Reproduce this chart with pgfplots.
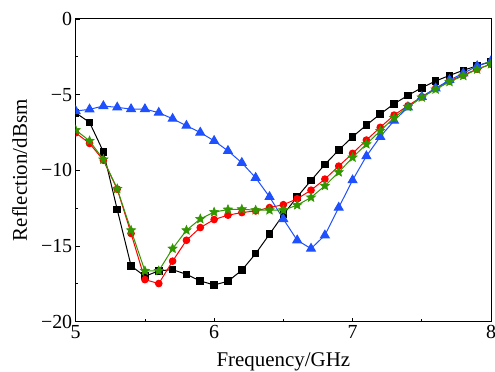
\documentclass[border=0pt]{standalone}
\usepackage{fontspec}
\setmainfont{Liberation Serif}
\usepackage{pgfplots}
\pgfplotsset{compat=1.18}
\definecolor{cblue}{RGB}{30,80,255}
\definecolor{cgreen}{RGB}{50,150,0}
\definecolor{cred}{RGB}{255,0,0}
\pgfdeclareplotmark{fstar}{%
  \pgfpathmoveto{\pgfpointpolar{90}{\pgfplotmarksize}}%
  \pgfpathlineto{\pgfpointpolar{126}{0.45\pgfplotmarksize}}%
  \pgfpathlineto{\pgfpointpolar{162}{\pgfplotmarksize}}%
  \pgfpathlineto{\pgfpointpolar{198}{0.45\pgfplotmarksize}}%
  \pgfpathlineto{\pgfpointpolar{234}{\pgfplotmarksize}}%
  \pgfpathlineto{\pgfpointpolar{270}{0.45\pgfplotmarksize}}%
  \pgfpathlineto{\pgfpointpolar{306}{\pgfplotmarksize}}%
  \pgfpathlineto{\pgfpointpolar{342}{0.45\pgfplotmarksize}}%
  \pgfpathlineto{\pgfpointpolar{18}{\pgfplotmarksize}}%
  \pgfpathlineto{\pgfpointpolar{54}{0.45\pgfplotmarksize}}%
  \pgfpathclose
  \pgfusepathqfillstroke}

\pgfplotstableread{
x y
5.0 -6.2
5.1 -6.83
5.2 -8.77
5.3 -12.59
5.4 -16.31
5.5 -17.0
5.6 -16.64
5.7 -16.56
5.8 -16.87
5.9 -17.31
6.0 -17.57
6.1 -17.33
6.2 -16.6
6.3 -15.5
6.4 -14.22
6.5 -12.92
6.6 -11.75
6.7 -10.67
6.8 -9.61
6.9 -8.66
7.0 -7.78
7.1 -7.01
7.2 -6.28
7.3 -5.6
7.4 -5.05
7.5 -4.54
7.6 -4.1
7.7 -3.73
7.8 -3.39
7.9 -3.09
8.0 -2.82
}\blackdata

\pgfplotstableread{
x y
5.0 -7.52
5.1 -8.22
5.2 -9.33
5.3 -11.24
5.4 -14.17
5.5 -17.22
5.6 -17.48
5.7 -16.0
5.8 -14.62
5.9 -13.78
6.0 -13.25
6.1 -12.96
6.2 -12.79
6.3 -12.68
6.4 -12.46
6.5 -12.27
6.6 -11.88
6.7 -11.31
6.8 -10.58
6.9 -9.72
7.0 -8.88
7.1 -8.0
7.2 -7.16
7.3 -6.35
7.4 -5.73
7.5 -5.14
7.6 -4.58
7.7 -4.1
7.8 -3.7
7.9 -3.31
8.0 -2.98
}\reddata

\pgfplotstableread{
x y
5.0 -6.08
5.1 -5.97
5.2 -5.75
5.3 -5.84
5.4 -5.95
5.5 -5.95
5.6 -6.19
5.7 -6.59
5.8 -7.05
5.9 -7.5
6.0 -8.05
6.1 -8.71
6.2 -9.5
6.3 -10.49
6.4 -11.75
6.5 -13.22
6.6 -14.62
6.7 -15.17
6.8 -14.29
6.9 -12.46
7.0 -10.65
7.1 -9.06
7.2 -7.78
7.3 -6.72
7.4 -5.84
7.5 -5.14
7.6 -4.58
7.7 -4.03
7.8 -3.59
7.9 -3.11
8.0 -2.78
}\bluedata

\pgfplotstableread{
x y
5.0 -7.34
5.1 -8.05
5.2 -9.28
5.3 -11.22
5.4 -13.96
5.5 -16.64
5.6 -16.64
5.7 -15.17
5.8 -13.96
5.9 -13.21
6.0 -12.76
6.1 -12.59
6.2 -12.57
6.3 -12.63
6.4 -12.63
6.5 -12.63
6.6 -12.3
6.7 -11.79
6.8 -11.02
6.9 -10.12
7.0 -9.15
7.1 -8.27
7.2 -7.39
7.3 -6.53
7.4 -5.8
7.5 -5.18
7.6 -4.65
7.7 -4.15
7.8 -3.75
7.9 -3.33
8.0 -2.98
}\greendata

\begin{document}
\begin{tikzpicture}
\begin{axis}[name=ax, scale only axis, width=415.3bp, height=302.7bp,
  xmin=5, xmax=8, ymin=-20, ymax=0,
  xtick={5,6,7,8}, xticklabels={5,6,7,8},
  ytick={-20,-15,-10,-5,0}, yticklabels={−20,−15,−10,−5,0},
  minor x tick num=1, minor y tick num=1,
  tick pos=left, tick align=inside,
  major tick length=4bp, minor tick length=2.5bp,
  axis line style={line width=1bp},
  every tick/.style={black, line width=0.8bp},
  ticklabel style={font=\fontsize{20}{24}\selectfont},
  label style={font=\fontsize{21}{25}\selectfont},
  xlabel={Frequency/GHz}, ylabel={Reflection/dBsm},
  xlabel style={at={(axis description cs:0.5,-0.1487)}, anchor=base},
  ylabel style={at={(axis description cs:-0.1173,0.5)}, anchor=base},
  clip marker paths=true,
  every axis plot/.append style={line width=1bp},
]
\addplot[black, mark=square*, mark size=3.3bp] table {\blackdata};
\addplot[cred, mark=*, mark size=3.3bp] table {\reddata};
\addplot[cblue, mark=triangle*, mark size=5bp] table {\bluedata};
\addplot[cgreen, mark=fstar, mark size=4.8bp, mark options={line width=0.6bp}] table {\greendata};
\end{axis}
\pgfresetboundingbox
\path[use as bounding box] ([shift={(-75.7bp,-50.3bp)}]ax.south west) rectangle ([shift={(4bp,19bp)}]ax.north east);
\end{tikzpicture}
\end{document}
